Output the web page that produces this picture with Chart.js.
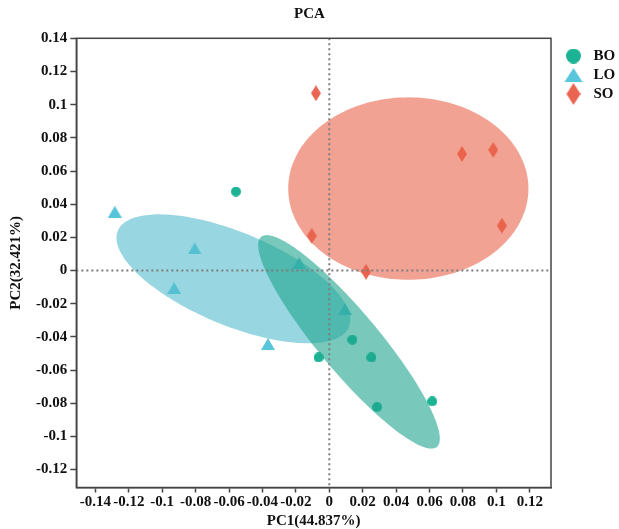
<!DOCTYPE html>
<html>
<head>
<meta charset="utf-8">
<script src="https://cdn.jsdelivr.net/npm/chart.js@4"></script>
<style>
  html, body { margin: 0; padding: 0; background: #fff; }
  #wrap { width: 619px; height: 529px; }
</style>
</head>
<body>
<div id="wrap"><canvas id="pca"></canvas></div>
<script>
// PC scores
const groups = ['BO', 'LO', 'SO'];
const boX = [-0.0559, -0.0064, 0.0138, 0.0252, 0.0286, 0.0616];
const boY = [0.0476, -0.0524, -0.0417, -0.0524, -0.0823, -0.0789];
const loX = [-0.1284, -0.0806, -0.0929, -0.0367, -0.018, 0.0094];
const loY = [0.0354, 0.0133, -0.0106, -0.0443, 0.0045, -0.0233];
const soX = [-0.008, 0.0794, 0.0981, 0.1033, -0.0105, 0.022];
const soY = [0.1069, 0.0703, 0.0727, 0.0271, 0.0209, -0.0008];

// group ellipses (BO, LO, SO): centre, semi axes, rotation in degrees
const ellCx = [0.0118, -0.0574, 0.0473];
const ellCy = [-0.043, -0.005, 0.0494];
const ellA = [0.0823, 0.075, 0.0719];
const ellB = [0.018, 0.028, 0.055];
const ellAngle = [-50.3, -22.8, 0];

const xTicks = [-0.14, -0.12, -0.1, -0.08, -0.06, -0.04, -0.02, 0, 0.02, 0.04, 0.06, 0.08, 0.1, 0.12];
const yTicks = [0.14, 0.12, 0.1, 0.08, 0.06, 0.04, 0.02, 0, -0.02, -0.04, -0.06, -0.08, -0.1, -0.12];

const FONT = 'Liberation Serif';
const colors = ['#1bb394', '#58c5da', '#ea6551'];
const fills = ['rgba(30,165,142,0.6)', 'rgba(83,188,205,0.6)', 'rgba(233,100,75,0.6)'];

// little canvas markers, shift moves the shape right inside the canvas
const marker = (shape, color, w, h, shift) => {
  shift = shift || 0;
  const c = document.createElement('canvas');
  c.width = w + 2 * shift; c.height = h;
  const g = c.getContext('2d');
  g.fillStyle = color;
  g.translate(2 * shift, 0);
  g.beginPath();
  if (shape === 'circle') {
    g.arc(w / 2, h / 2, Math.min(w, h) / 2, 0, Math.PI * 2);
  } else if (shape === 'triangle') {
    g.moveTo(w / 2, 0); g.lineTo(w, h); g.lineTo(0, h); g.closePath();
  } else {
    g.moveTo(w / 2, 0); g.lineTo(w, h / 2); g.lineTo(w / 2, h); g.lineTo(0, h / 2); g.closePath();
  }
  g.fill();
  return c;
};

const plotMarks = [
  marker('circle', colors[0], 10, 10),
  marker('triangle', colors[1], 14, 12),
  marker('diamond', colors[2], 10, 16)
];
const legendMarks = [
  marker('circle', colors[0], 15, 15, 3),
  marker('triangle', colors[1], 18, 14, 3),
  marker('diamond', colors[2], 14, 22, 3)
];

const toPts = (xs, ys) => xs.map((v, i) => ({x: v, y: ys[i]}));

const pcaDecor = {
  id: 'pcaDecor',
  afterDatasetsDraw(chart) {
    const {ctx, chartArea: a, scales: {x, y}} = chart;
    ctx.save();
    ctx.beginPath();
    ctx.rect(a.left, a.top, a.right - a.left, a.bottom - a.top);
    ctx.clip();

    // ellipses, SO first then LO then BO
    [2, 1, 0].forEach(i => {
      const phi = ellAngle[i] * Math.PI / 180;
      ctx.beginPath();
      for (let k = 0; k <= 180; k++) {
        const t = k / 180 * Math.PI * 2;
        const dx = ellA[i] * Math.cos(t), dy = ellB[i] * Math.sin(t);
        const px = x.getPixelForValue(ellCx[i] + dx * Math.cos(phi) - dy * Math.sin(phi));
        const py = y.getPixelForValue(ellCy[i] + dx * Math.sin(phi) + dy * Math.cos(phi));
        if (k === 0) ctx.moveTo(px, py); else ctx.lineTo(px, py);
      }
      ctx.closePath();
      ctx.fillStyle = fills[i];
      ctx.fill();
    });

    // zero lines
    ctx.strokeStyle = '#7d7d7d';
    ctx.lineWidth = 2;
    ctx.setLineDash([2, 3]);
    const x0 = x.getPixelForValue(0), y0 = y.getPixelForValue(0);
    ctx.beginPath();
    ctx.moveTo(x0, a.top); ctx.lineTo(x0, a.bottom);
    ctx.moveTo(a.left, y0); ctx.lineTo(a.right, y0);
    ctx.stroke();
    ctx.restore();
  },
  afterDraw(chart) {
    const {ctx, chartArea: a} = chart;
    ctx.save();
    ctx.strokeStyle = '#444';
    ctx.lineWidth = 1.5;
    ctx.strokeRect(a.left, a.top, a.right - a.left, a.bottom - a.top);
    ctx.restore();
  }
};

const tickFont = {family: FONT, size: 15, weight: 'bold'};

new Chart(document.getElementById('pca'), {
  type: 'scatter',
  data: {
    datasets: [
      {label: groups[0], data: toPts(boX, boY), pointStyle: plotMarks[0], backgroundColor: colors[0]},
      {label: groups[1], data: toPts(loX, loY), pointStyle: plotMarks[1], backgroundColor: colors[1]},
      {label: groups[2], data: toPts(soX, soY), pointStyle: plotMarks[2], backgroundColor: colors[2]}
    ]
  },
  options: {
    responsive: true,
    maintainAspectRatio: false,
    animation: false,
    events: [],
    layout: {padding: 0},
    scales: {
      x: {
        type: 'linear',
        min: -0.1514,
        max: 0.1327,
        afterBuildTicks: s => { s.ticks = xTicks.map(v => ({value: v})); },
        ticks: {
          callback: v => String(v),
          autoSkip: false, maxRotation: 0, minRotation: 0,
          padding: 1, color: '#111', font: tickFont
        },
        grid: {drawOnChartArea: false, drawTicks: true, tickLength: 5, tickColor: '#444', tickWidth: 1.5},
        border: {display: true, color: '#444', width: 1.5},
        title: {
          display: true, text: 'PC1(44.837%)', color: '#111',
          font: {family: FONT, size: 15, weight: 'bold', lineHeight: 1.1},
          padding: {top: 0, bottom: 0}
        }
      },
      y: {
        type: 'linear',
        min: -0.1308,
        max: 0.14,
        afterBuildTicks: s => { s.ticks = yTicks.map(v => ({value: v})); },
        ticks: {
          callback: v => String(v),
          autoSkip: false,
          padding: 3, color: '#111', font: tickFont
        },
        grid: {drawOnChartArea: false, drawTicks: true, tickLength: 6, tickColor: '#444', tickWidth: 1.5},
        border: {display: true, color: '#444', width: 1.5},
        title: {
          display: true, text: 'PC2(32.421%)', color: '#111',
          font: {family: FONT, size: 15, weight: 'bold'},
          padding: {top: 6.7, bottom: 8.4}
        }
      }
    },
    plugins: {
      title: {
        display: true, text: 'PCA', color: '#111',
        font: {family: FONT, size: 15, weight: 'bold'},
        padding: {top: 5, bottom: 15.3}
      },
      legend: {
        position: 'right',
        align: 'start',
        fullSize: false,
        maxWidth: 68,
        title: {display: true, text: '', font: {size: 1, lineHeight: 1}, padding: {top: 5.2, bottom: 0}},
        labels: {
          usePointStyle: true,
          pointStyleWidth: 31,
          padding: 4,
          color: '#111',
          font: {family: FONT, size: 15, weight: 'bold'},
          generateLabels: chart => {
            const items = Chart.defaults.plugins.legend.labels.generateLabels(chart);
            items.forEach((it, i) => { it.pointStyle = legendMarks[i]; });
            return items;
          }
        }
      },
      tooltip: {enabled: false}
    }
  },
  plugins: [pcaDecor]
});
</script>
</body>
</html>
